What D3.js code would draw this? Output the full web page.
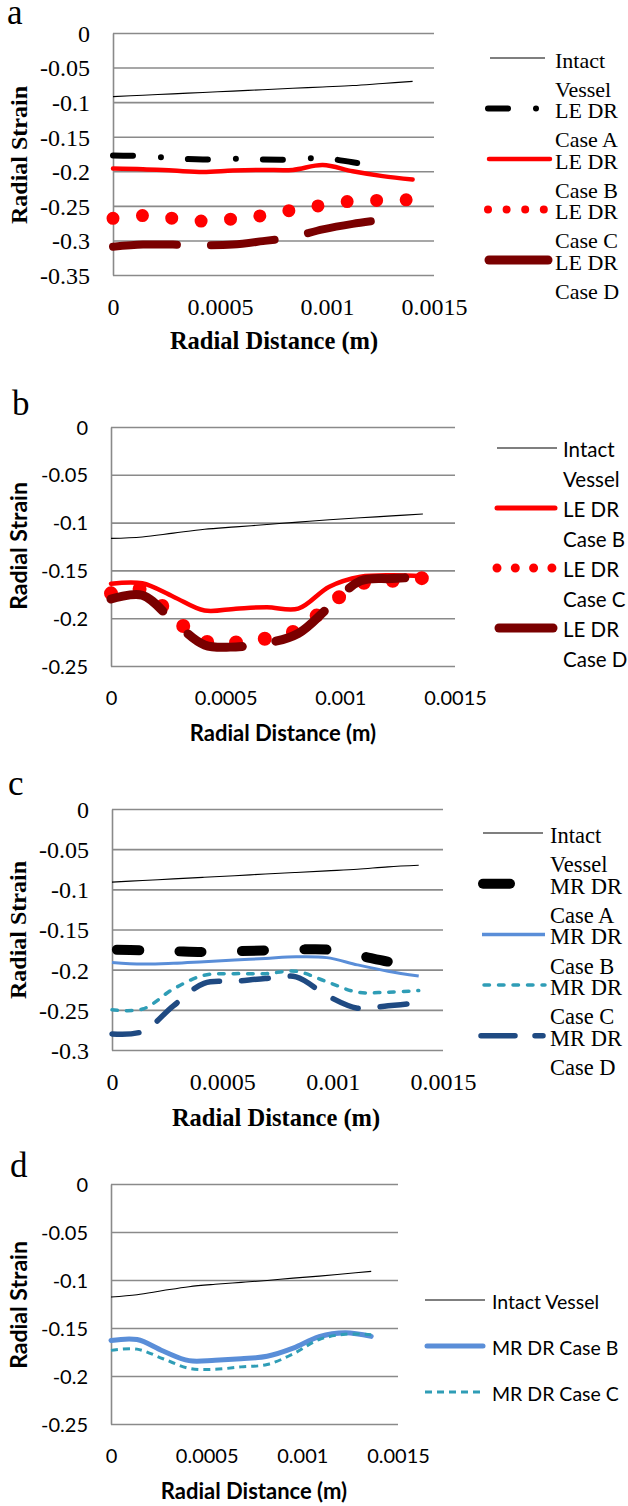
<!DOCTYPE html>
<html><head><meta charset="utf-8">
<script src="https://cdn.jsdelivr.net/npm/d3@7"></script>
<style>body{margin:0;background:#fff}svg{display:block}</style>
</head><body>
<script>
// ---------- DATA ----------
const xTicks = [0, 0.0005, 0.001, 0.0015];
const yTicksA = [0, -0.05, -0.1, -0.15, -0.2, -0.25, -0.3, -0.35];
const yTicksB = [0, -0.05, -0.1, -0.15, -0.2, -0.25];
const yTicksC = [0, -0.05, -0.1, -0.15, -0.2, -0.25, -0.3];
const yTicksD = [0, -0.05, -0.1, -0.15, -0.2, -0.25];

// Panel a
const aX = [0, 0.00014, 0.00028, 0.00042, 0.00056, 0.0007, 0.00084, 0.00098, 0.00112, 0.00126, 0.0014];
const aIntact = [-0.092, -0.090, -0.088, -0.086, -0.084, -0.082, -0.080, -0.078, -0.076, -0.073, -0.070];
const aLECaseA = [-0.177, -0.178, -0.181, -0.183, -0.182, -0.183, -0.183, -0.181, -0.187, -0.194];
const aLECaseB = [-0.196, -0.197, -0.199, -0.201, -0.199, -0.198, -0.198, -0.191, -0.200, -0.207, -0.212];
const aLECaseC = [-0.268, -0.264, -0.268, -0.272, -0.269, -0.264, -0.256, -0.249, -0.243, -0.242, -0.241];
const aLECaseD = [-0.309, -0.306, -0.306, -0.307, -0.306, -0.301, -0.295, -0.284, -0.276, -0.270];

// Panel b
const bX = [0, 0.000136, 0.000272, 0.000408, 0.000544, 0.00068, 0.000816, 0.000952, 0.001088, 0.001224, 0.00136];
const bIntact = [-0.1165, -0.115, -0.111, -0.107, -0.1045, -0.102, -0.0995, -0.097, -0.095, -0.093, -0.091];
const bLECaseB = [-0.164, -0.1635, -0.1775, -0.192, -0.190, -0.1885, -0.190, -0.167, -0.1566, -0.155, -0.156];
const bLECaseC = [-0.174, -0.170, -0.199, -0.224, -0.2255, -0.221, -0.212, -0.186, -0.164, -0.161, -0.158];
const bLECaseD = [-0.180, -0.176, -0.203, -0.228, -0.230, -0.226, -0.216, -0.188, -0.161, -0.1585, -0.157];

// Panel c
const cX = [0, 0.000139, 0.000278, 0.000417, 0.000556, 0.000695, 0.000834, 0.000973, 0.001112, 0.001251, 0.00139];
const cIntact = [-0.091, -0.089, -0.087, -0.085, -0.083, -0.081, -0.079, -0.077, -0.075, -0.072, -0.070];
const cMRCaseA = [-0.175, -0.176, -0.177, -0.178, -0.177, -0.176, -0.175, -0.175, -0.182, -0.190, -0.196];
const cMRCaseB = [-0.191, -0.193, -0.192, -0.190, -0.188, -0.186, -0.184, -0.185, -0.194, -0.202, -0.208];
const cMRCaseC = [-0.250, -0.249, -0.224, -0.207, -0.205, -0.205, -0.202, -0.215, -0.228, -0.228, -0.226];
const cMRCaseD = [-0.280, -0.277, -0.245, -0.217, -0.2145, -0.211, -0.209, -0.232, -0.248, -0.245, -0.2415];

// Panel d
const dX = [0, 0.000136, 0.000272, 0.000408, 0.000544, 0.00068, 0.000816, 0.000952, 0.001088, 0.001224, 0.00136];
const dIntact = [-0.1177, -0.1153, -0.111, -0.107, -0.1045, -0.1025, -0.1005, -0.098, -0.096, -0.0935, -0.091];
const dMRCaseB = [-0.163, -0.162, -0.174, -0.184, -0.1835, -0.182, -0.1795, -0.171, -0.159, -0.155, -0.1587];
const dMRCaseC = [-0.1733, -0.172, -0.182, -0.192, -0.193, -0.1905, -0.188, -0.177, -0.162, -0.1565, -0.157];

// ---------- DRAWING ----------
const SERIF = "'Liberation Serif', 'Times New Roman', serif";
const SANS = "Lato, 'Open Sans', sans-serif";
const GRID = "#8a8a8a";

const svg = d3.select("body").append("svg").attr("width", 628).attr("height", 1506);

function panel(cfg) {
  const g = svg.append("g");
  const x = d3.scaleLinear().domain([0, 0.0015]).range([cfg.left, cfg.right]);
  const y = d3.scaleLinear().domain([0, cfg.yMin]).range([cfg.top, cfg.bottom]);

  const ya = g.append("g").attr("transform", `translate(${cfg.left},0)`)
    .call(d3.axisLeft(y).tickValues(cfg.yTicks).tickFormat(d => String(d))
      .tickSize(-(cfg.right - cfg.left)).tickSizeOuter(0).tickPadding(cfg.left - cfg.yLabelX));
  ya.select(".domain").attr("stroke", GRID).attr("stroke-width", 1.6);
  ya.selectAll(".tick line").attr("stroke", GRID).attr("stroke-width", 1.6);
  ya.selectAll(".tick text").attr("font-family", cfg.font).attr("font-size", cfg.tickFs)
    .attr("fill", "#000").attr("dy", "0.35em");

  const xa = g.append("g").attr("transform", `translate(0,${cfg.bottom})`)
    .call(d3.axisBottom(x).tickValues(xTicks).tickFormat(d => String(d)).tickSize(0));
  xa.select(".domain").remove();
  xa.selectAll(".tick text").attr("font-family", cfg.font).attr("font-size", cfg.tickFs)
    .attr("fill", "#000").attr("dy", null).attr("y", cfg.xLabelBase - cfg.bottom);

  g.append("text").attr("x", cfg.xTitle[0]).attr("y", cfg.xTitle[1]).attr("text-anchor", "middle")
    .attr("font-family", cfg.font).attr("font-weight", "bold").attr("font-size", cfg.titleFs)
    .text("Radial Distance (m)");
  g.append("text").attr("transform", `translate(${cfg.yTitle[0]},${cfg.yTitle[1]}) rotate(-90)`)
    .attr("text-anchor", "middle").attr("dy", "0.35em")
    .attr("font-family", cfg.font).attr("font-weight", "bold").attr("font-size", cfg.yTitleFs)
    .text("Radial Strain");

  g.append("text").attr("x", cfg.letter[1]).attr("y", cfg.letter[2])
    .attr("font-family", SERIF).attr("font-size", 35).text(cfg.letter[0]);

  const line = d3.line().x(d => x(d[0])).y(d => y(d[1])).curve(d3.curveCatmullRom.alpha(0.5));
  cfg.series.forEach(s => {
    const pts = s.y.map((v, i) => [s.x[i], v]);
    g.append("path").attr("d", line(pts)).attr("fill", "none")
      .attr("stroke", s.color).attr("stroke-width", s.w)
      .attr("stroke-linecap", s.cap || "butt").attr("stroke-linejoin", "round")
      .attr("stroke-dasharray", s.dash || null)
      .attr("stroke-dashoffset", s.off || 0);
  });

  const L = cfg.legend;
  cfg.series.forEach((s, i) => {
    const ty = L.y0 + L.step * i;
    const ls = s.leg || {};
    g.append("line").attr("x1", ls.x1 ?? L.x1).attr("x2", ls.x2 ?? L.x2)
      .attr("y1", ty - 2).attr("y2", ty - 2)
      .attr("stroke", s.color).attr("stroke-width", ls.w ?? s.w)
      .attr("stroke-linecap", ls.cap ?? (s.cap || "butt"))
      .attr("stroke-dasharray", ls.dash !== undefined ? ls.dash : (s.dash || null));
    s.label.forEach((t, j) => {
      g.append("text").attr("x", L.tx).attr("y", ty + j * L.lh).attr("dy", "0.35em")
        .attr("font-family", cfg.font).attr("font-size", L.fs).text(t);
    });
  });
}

panel({
  left: 113, right: 434, top: 33, bottom: 275, yMin: -0.35, yTicks: yTicksA,
  font: SERIF, tickFs: 24, yLabelX: 90, xLabelBase: 315, titleFs: 24.5, yTitleFs: 24,
  xTitle: [274, 349], yTitle: [19, 155], letter: ["a", 7, 24],
  series: [
    {x: aX, y: aIntact, color: "#000", w: 1.1, label: ["Intact", "Vessel"], leg: {x1: 490, x2: 545}},
    {x: aX, y: aLECaseA, color: "#000", w: 6, cap: "round", dash: "20 28 0 27", label: ["LE DR", "Case A"], leg: {x1: 488, x2: 540}},
    {x: aX, y: aLECaseB, color: "#ff0000", w: 4.5, cap: "round", label: ["LE DR", "Case B"], leg: {x1: 489, x2: 550}},
    {x: aX, y: aLECaseC, color: "#ff0000", w: 13, cap: "round", dash: "0 29.5", label: ["LE DR", "Case C"], leg: {x1: 488, x2: 546, w: 8, dash: "0 18.6"}},
    {x: aX, y: aLECaseD, color: "#7a0000", w: 8, cap: "round", dash: "64 34", label: ["LE DR", "Case D"], leg: {x1: 489, x2: 548, w: 9, dash: null}}
  ],
  legend: {tx: 555, y0: 60, step: 50.5, lh: 29, fs: 22, x1: 488, x2: 550}
});

panel({
  left: 111, right: 455, top: 427, bottom: 666, yMin: -0.25, yTicks: yTicksB,
  font: SANS, tickFs: 20, yLabelX: 88, xLabelBase: 705, titleFs: 22, yTitleFs: 23,
  xTitle: [283, 741], yTitle: [19, 546], letter: ["b", 12, 415],
  series: [
    {x: bX, y: bIntact, color: "#000", w: 1.1, label: ["Intact", "Vessel"], leg: {x1: 497, x2: 557}},
    {x: bX, y: bLECaseB, color: "#ff0000", w: 4.5, cap: "round", label: ["LE DR", "Case B"], leg: {x1: 497, x2: 555, w: 5}},
    {x: bX, y: bLECaseC, color: "#ff0000", w: 14, cap: "round", dash: "0 29", label: ["LE DR", "Case C"], leg: {x1: 497, x2: 554, w: 9, dash: "0 18.3"}},
    {x: bX, y: bLECaseD, color: "#7a0000", w: 9, cap: "round", dash: "58 34", label: ["LE DR", "Case D"], leg: {x1: 499, x2: 553, dash: null}}
  ],
  legend: {tx: 563, y0: 450, step: 60, lh: 30, fs: 20.5, x1: 497, x2: 557}
});

panel({
  left: 112, right: 443, top: 809, bottom: 1050, yMin: -0.3, yTicks: yTicksC,
  font: SERIF, tickFs: 24, yLabelX: 89, xLabelBase: 1090, titleFs: 24.5, yTitleFs: 24,
  xTitle: [276, 1126], yTitle: [18, 930], letter: ["c", 8, 795],
  series: [
    {x: cX, y: cIntact, color: "#000", w: 1.1, label: ["Intact", "Vessel"], leg: {x1: 483, x2: 543}},
    {x: cX, y: cMRCaseA, color: "#000", w: 10, cap: "round", dash: "22 40.5", off: -5, label: ["MR DR", "Case A"], leg: {x1: 483, x2: 510, dash: null}},
    {x: cX, y: cMRCaseB, color: "#5a8ed8", w: 3, label: ["MR DR", "Case B"], leg: {x1: 482, x2: 545, w: 3.5}},
    {x: cX, y: cMRCaseC, color: "#2f9db6", w: 3.5, cap: "round", dash: "5.5 9", label: ["MR DR", "Case C"], leg: {x1: 484, x2: 545}},
    {x: cX, y: cMRCaseD, color: "#1f4a82", w: 5.5, cap: "round", dash: "27 22", label: ["MR DR", "Case D"], leg: {x1: 481, x2: 543, dash: "34 20"}}
  ],
  legend: {tx: 550, y0: 835, step: 50.7, lh: 29.5, fs: 22.5, x1: 482, x2: 545}
});

panel({
  left: 111, right: 398, top: 1184, bottom: 1424, yMin: -0.25, yTicks: yTicksD,
  font: SANS, tickFs: 20, yLabelX: 88, xLabelBase: 1463, titleFs: 22, yTitleFs: 23,
  xTitle: [254, 1499], yTitle: [19, 1305], letter: ["d", 10, 1177],
  series: [
    {x: dX, y: dIntact, color: "#000", w: 1.1, label: ["Intact Vessel"]},
    {x: dX, y: dMRCaseB, color: "#5a8ed8", w: 5, cap: "round", label: ["MR DR Case B"], leg: {x1: 427, x2: 483}},
    {x: dX, y: dMRCaseC, color: "#2f9db6", w: 3, dash: "7 5", label: ["MR DR Case C"]}
  ],
  legend: {tx: 492, y0: 1302, step: 46, lh: 0, fs: 19.5, x1: 425, x2: 485}
});
</script>
</body></html>
